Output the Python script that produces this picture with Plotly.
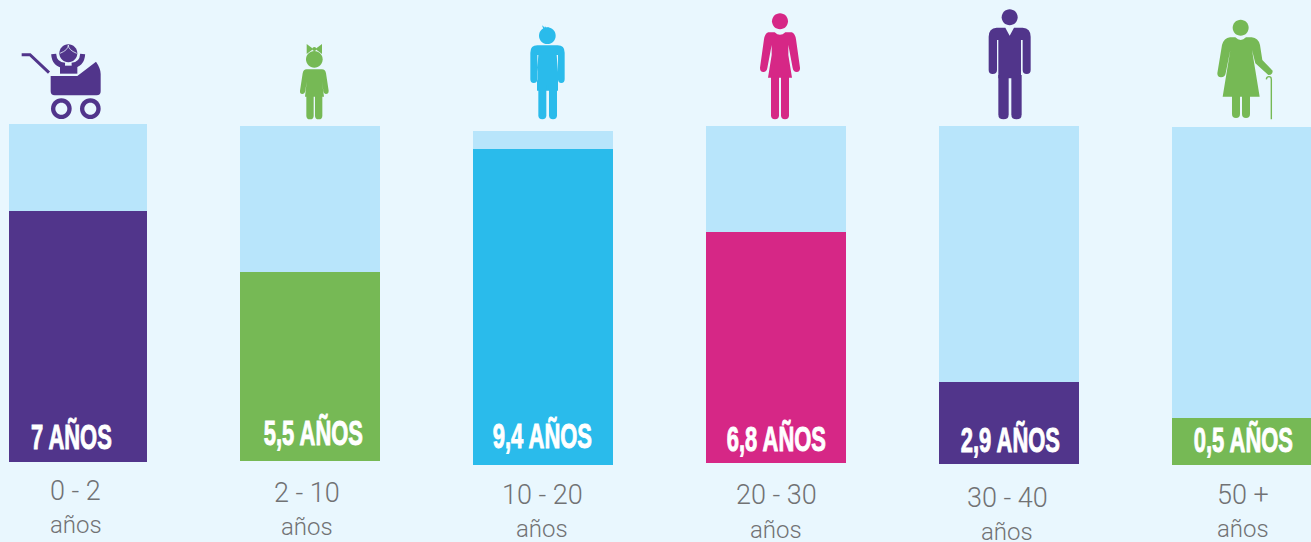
import re
import plotly.graph_objects as go

# --- data ---
age_groups = ["0 - 2", "2 - 10", "10 - 20", "20 - 30", "30 - 40", "50 +"]
age_unit = "años"
value_labels = ["7 AÑOS", "5,5 AÑOS", "9,4 AÑOS", "6,8 AÑOS", "2,9 AÑOS", "0,5 AÑOS"]
# drawn heights of the bars (scale: full bar is about 10)
filled_values = [7.43, 5.59, 9.35, 6.83, 2.43, 1.39]
total_values = [10.0, 9.91, 9.88, 9.97, 10.0, 10.0]

# --- layout of the infographic (pixels) ---
W, H = 1311, 542
UNIT = 33.8
bar_left = [9, 240, 473, 706, 939, 1172]
bar_width = [138, 140, 140, 140, 140, 140]
bar_bottom = [462, 461, 465, 463, 464, 465]
bar_colors = ["#51358b", "#76b955", "#2abbeb", "#d62786", "#51358b", "#76b955"]
LIGHT = "#b8e5fb"
BG = "#e9f7fe"
GREY = "#717274"
value_xy = [(71.5, 436), (313, 432), (542.5, 435), (776, 437.5), (1010.5, 438.5), (1243, 438.5)]
age_xy = [(75.5, 491), (307, 493), (542, 495), (776, 495), (1007, 498), (1243, 495)]
unit_xy = [(75.5, 525), (307, 527), (542, 529), (776, 530), (1007, 532), (1243, 529)]

Y0 = bar_bottom[0]
y_range = [(Y0 - H) / UNIT, Y0 / UNIT]
base = [(Y0 - b) / UNIT for b in bar_bottom]
centers = [l + w / 2 for l, w in zip(bar_left, bar_width)]

fig = go.Figure()
fig.add_bar(x=centers, y=total_values, base=base, width=bar_width,
            marker=dict(color=LIGHT, line_width=0), hoverinfo="skip", showlegend=False)
fig.add_bar(x=centers, y=filled_values, base=base, width=bar_width,
            marker=dict(color=bar_colors, line_width=0), hoverinfo="skip", showlegend=False)


def conv(d, ox, oy, k):
    toks = re.findall(r"[A-Za-z]|-?\d+\.?\d*", d)
    out, is_x = [], True
    for t in toks:
        if t.isalpha():
            out.append(t)
            is_x = True
        else:
            v = float(t)
            if is_x:
                out.append(f"{(ox + v / k) / W:.5f}")
            else:
                out.append(f"{1 - (oy + v / k) / H:.5f}")
            is_x = not is_x
    return " ".join(out)


shapes = []


def fill(d, color, ox=0, oy=0, k=3):
    shapes.append(dict(type="path", path=conv(d, ox, oy, k), xref="paper", yref="paper",
                       fillcolor=color, line=dict(width=0), layer="above"))


def stroke(d, color, w, ox=0, oy=0, k=3):
    shapes.append(dict(type="path", path=conv(d, ox, oy, k), xref="paper", yref="paper",
                       line=dict(color=color, width=w), layer="above"))


def circle(cx, cy, r, color, ox=0, oy=0, k=3):
    kap = 0.5523 * r
    d = (f"M {cx-r} {cy} C {cx-r} {cy-kap} {cx-kap} {cy-r} {cx} {cy-r} "
         f"C {cx+kap} {cy-r} {cx+r} {cy-kap} {cx+r} {cy} "
         f"C {cx+r} {cy+kap} {cx+kap} {cy+r} {cx} {cy+r} "
         f"C {cx-kap} {cy+r} {cx-r} {cy+kap} {cx-r} {cy} Z")
    fill(d, color, ox, oy, k)


def leg(x1, x2, y1, y2, color, ox=0, oy=0):
    m = (x1 + x2) / 2
    r = (x2 - x1) / 2
    fill(f"M {x1} {y1} L {x2} {y1} L {x2} {y2-r} Q {x2} {y2} {m} {y2} Q {x1} {y2} {x1} {y2-r} Z",
         color, ox, oy)


# stroller + baby
c = bar_colors[0]
stroke("M 65 164 L 90 164 L 147 218", c, 3)
circle(205, 160, 27, c)
stroke("M 205 135 Q 205 150 180 160", BG, 0.8)
stroke("M 205 135 Q 205 150 230 160", BG, 0.8)
stroke("M 161 162 Q 163 195 195 196", c, 5)
stroke("M 248 162 Q 246 195 215 196", c, 5)
fill("M 180 197 L 232 197 L 232 221 L 180 221 Z", c)
fill("M 152 228 L 232 228 L 288 185 Q 302 205 302 222 L 302 274 Q 302 286 290 286 "
     "L 164 286 Q 152 286 152 274 Z", c)
for cx in (184, 271):
    circle(cx, 326, 31, c)
    circle(cx, 326, 18, BG)

# girl
c = bar_colors[1]
fill("M 920 132 L 940 147 L 920 162 Z", c)
fill("M 966 132 L 946 147 L 966 162 Z", c)
circle(943, 147, 6, c)
circle(943, 178, 25, c)
fill("M 920 208 L 966 208 Q 976 208 978 220 L 986 272 Q 986 282 978 282 Q 972 282 970 272 "
     "L 966 245 L 972 290 L 915 290 L 920 245 L 916 272 Q 914 282 907 282 Q 899 282 900 272 "
     "L 908 220 Q 910 208 920 208 Z", c)
leg(919, 941, 285, 358, c)
leg(945, 967, 285, 358, c)

# boy
c = bar_colors[2]
ox = 440
circle(322, 107, 25, c, ox)
fill("M 306 76 L 316 84 L 314 78 L 320 84 L 325 82 L 330 88 L 312 92 Z", c, ox)
fill("M 292 136 L 353 136 Q 374 136 374 158 L 374 238 Q 374 249 364 249 Q 354 249 354 238 "
     "L 354 165 L 350 165 L 354 215 L 354 272 L 291 272 L 291 215 L 295 165 L 292 165 "
     "L 292 238 Q 292 249 281 249 Q 271 249 271 238 L 271 158 Q 271 136 292 136 Z", c, ox)
leg(295, 319, 255, 358, c, ox)
leg(327, 351, 255, 358, c, ox)

# woman
c = bar_colors[3]
circle(1020, 64, 24, c, ox)
fill("M 985 97 Q 975 100 972 118 L 960 203 Q 960 216 970 216 Q 980 216 982 204 L 995 135 "
     "L 995 165 L 984 233 L 1056 233 L 1045 165 L 1045 135 L 1058 204 Q 1060 216 1070 216 "
     "Q 1081 216 1080 203 L 1068 118 Q 1065 100 1055 97 L 1036 97 Q 1020 112 1004 97 Z", c, ox)
leg(993, 1017, 230, 358, c, ox)
leg(1023, 1047, 230, 358, c, ox)

# man
c = bar_colors[4]
ox = 900
circle(329, 52, 24, c, ox)
fill("M 290 83 L 316 83 L 329 107 L 342 83 L 368 83 Q 392 85 392 110 L 392 210 Q 392 222 380 222 "
     "Q 368 222 368 210 L 368 120 L 363 120 L 363 235 L 295 235 L 295 120 L 291 120 L 291 210 "
     "Q 291 222 278 222 Q 266 222 266 210 L 266 110 Q 266 85 290 83 Z", c, ox)
leg(295, 326, 225, 358, c, ox)
leg(334, 365, 225, 358, c, ox)

# old woman
c = bar_colors[5]
circle(1022, 83, 24, c, ox)
fill("M 990 112 Q 972 114 966 135 L 952 220 Q 952 232 963 232 Q 975 232 977 220 L 991 150 "
     "L 968 290 L 1079 290 L 1056 150 L 1066 190 L 1105 225 Q 1118 225 1118 212 L 1087 180 "
     "L 1080 135 Q 1075 114 1055 112 L 1038 112 Q 1022 128 1006 112 Z", c, ox)
leg(996, 1020, 285, 354, c, ox)
leg(1026, 1050, 285, 354, c, ox)
stroke("M 1099 238 Q 1100 230 1107 230 Q 1114 230 1114 238 L 1114 358", c, 1.4, ox)

annotations = []


def label(text, xy, size, color, family, weight=400):
    annotations.append(dict(text=text, x=xy[0] / W, y=1 - xy[1] / H, xref="paper", yref="paper",
                            showarrow=False, xanchor="center", yanchor="middle",
                            font=dict(size=size, color=color, family=family, weight=weight)))


for t, xy in zip(value_labels, value_xy):
    label(t, xy, 36, "#ffffff", "Liberation Sans", 700)
for t, xy in zip(age_groups, age_xy):
    label(t, xy, 27, GREY, "Roboto", 300)
for xy in unit_xy:
    label(age_unit, xy, 24, GREY, "Roboto", 300)

fig.update_layout(
    width=W, height=H, margin=dict(l=0, r=0, t=0, b=0),
    paper_bgcolor=BG, plot_bgcolor=BG, barmode="overlay", bargap=0, showlegend=False,
    xaxis=dict(range=[0, W], visible=False, fixedrange=True),
    yaxis=dict(range=y_range, visible=False, fixedrange=True),
    shapes=shapes, annotations=annotations,
)

post = """
document.body.style.margin = '0';
document.querySelectorAll('.annotation-text').forEach(function (t) {
  var f = t.style.fill || '';
  if (f.indexOf('255, 255, 255') >= 0) {
    t.style.transformBox = 'fill-box';
    t.style.transformOrigin = 'center';
    t.style.transform = 'scaleX(0.61)';
    t.style.stroke = '#ffffff';
    t.style.strokeWidth = '1px';
  }
});
"""
fig.write_html("out.html", post_script=post, config=dict(displayModeBar=False))
